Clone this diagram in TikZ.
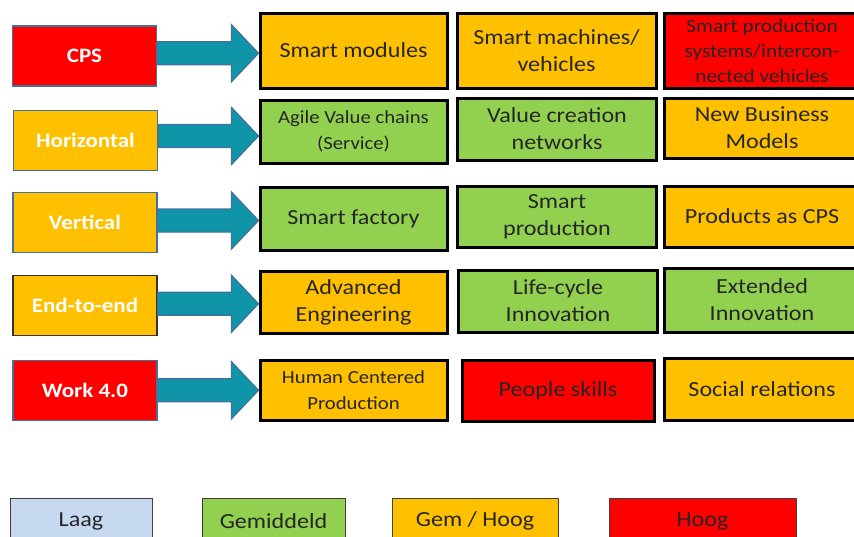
\documentclass[tikz,border=0pt]{standalone}
\usepackage{fontspec}
\setmainfont{Carlito}[FakeStretch=1.12]
\usetikzlibrary{calc}

\definecolor{oranje}{HTML}{FFC000}
\definecolor{groen}{HTML}{92D050}
\definecolor{rood}{HTML}{FF0000}
\definecolor{lichtblauw}{HTML}{C6D9F1}
\definecolor{petrol}{HTML}{1095A8}
\definecolor{randblauw}{HTML}{41719C}

\tikzset{
  lbox/.style={draw=randblauw, line width=1.5pt, minimum width=144, minimum height=60,
    inner sep=0, text=white, font=\bfseries\fontsize{20.5}{24}\selectfont},
  cbox/.style={draw=black, line width=3pt, inner sep=0, align=center, text=black!85,
    font=\fontsize{21.5}{27}\selectfont},
  c1/.style={cbox, minimum width=187},
  c2/.style={cbox, minimum width=199},
  c3/.style={cbox, minimum width=196},
  small/.style={font=\fontsize{18.5}{26}\selectfont},
  legbox/.style={draw=black!75, line width=1pt, minimum height=46, inner sep=0,
    text=black!85, font=\fontsize{21.5}{24}\selectfont},
  blockarr/.style={draw=randblauw, fill=petrol, line width=1.2pt,
    to path={let \p1=(\tikztostart.east), \p2=(\tikztotarget.west),
      \p3=($(\p1)!.5!(\p2)$) in
      (\x1,\y3+11.5pt) -- (\x2-27pt,\y3+11.5pt) -- (\x2-27pt,\y3+28.5pt) -- (\x2,\y3)
      -- (\x2-27pt,\y3-28.5pt) -- (\x2-27pt,\y3-11.5pt) -- (\x1,\y3-11.5pt) -- cycle}}
}

\begin{document}
\begin{tikzpicture}[x=1pt,y=-1pt]
  \useasboundingbox (0,0) rectangle (854,536);

  % left column
  \begin{scope}[every node/.style={lbox}]
    \node[fill=rood]    (1) at (84.5,56)  {CPS};
    \node[fill=oranje]  (2) at (85.5,140.5) {Horizontal};
    \node[fill=oranje]  (3) at (85,222.5) {Vertical};
    \node[fill=oranje, draw=black!80] (4) at (85,305.5) {End-to-end};
    \node[fill=rood]    (5) at (85,390.5) {Work 4.0};
  \end{scope}

  % first column
  \node[c1, fill=oranje, minimum height=75] (11) at (353.5,50.5) {Smart modules};
  \node[c1, fill=groen, minimum height=63, small] (12) at (353.5,131.5) {Agile Value chains\\(Service)};
  \node[c1, fill=groen, minimum height=63] (13) at (353.5,218.5) {Smart factory};
  \node[c1, fill=oranje, minimum height=62] (14) at (353.5,302) {Advanced\\Engineering};
  \node[c1, fill=oranje, minimum height=60, small] (15) at (353.5,390) {Human Centered\\Production};

  % second column
  \node[c2, fill=oranje, minimum height=75] (21) at (556.5,50.5) {Smart machines/\\vehicles};
  \node[c2, fill=groen, minimum height=62] (22) at (557,129) {Value creation\\networks};
  \node[c2, fill=groen, minimum height=61] (23) at (557,216.5) {Smart\\production};
  \node[c2, fill=groen, minimum height=62] (24) at (558,301) {Life-cycle\\Innovation};
  \node[c2, fill=rood, minimum height=61, minimum width=192] (25) at (558,390.5) {People skills};

  % third column
  \node[c3, fill=rood, minimum height=75, font=\fontsize{19}{25}\selectfont] (31) at (762,50.5)
    {Smart production\\systems/intercon-\\nected vehicles};
  \node[c3, fill=oranje, minimum height=60] (32) at (762,128) {New Business\\Models};
  \node[c3, fill=oranje, minimum height=61] (33) at (762,216.5) {Products as CPS};
  \node[c3, fill=groen, minimum height=64] (34) at (762,300) {Extended\\Innovation};
  \node[c3, fill=oranje, minimum height=62] (35) at (762,389) {Social relations};

  % arrows
  \path (1) edge[blockarr] (11);
  \path (2) edge[blockarr] (12);
  \path (3) edge[blockarr] (13);
  \path (4) edge[blockarr] (14);
  \path (5) edge[blockarr] (15);

  % legend
  \begin{scope}[every node/.style={legbox}]
    \node[fill=lichtblauw, minimum width=142] (41) at (81,521)    {Laag};
    \node[fill=groen,      minimum width=143] (42) at (273.5,521) {Gemiddeld};
    \node[fill=oranje,     minimum width=166] (43) at (475,521)   {Gem / Hoog};
    \node[fill=rood,       minimum width=187] (44) at (702.5,521) {Hoog};
  \end{scope}

\end{tikzpicture}
\end{document}
